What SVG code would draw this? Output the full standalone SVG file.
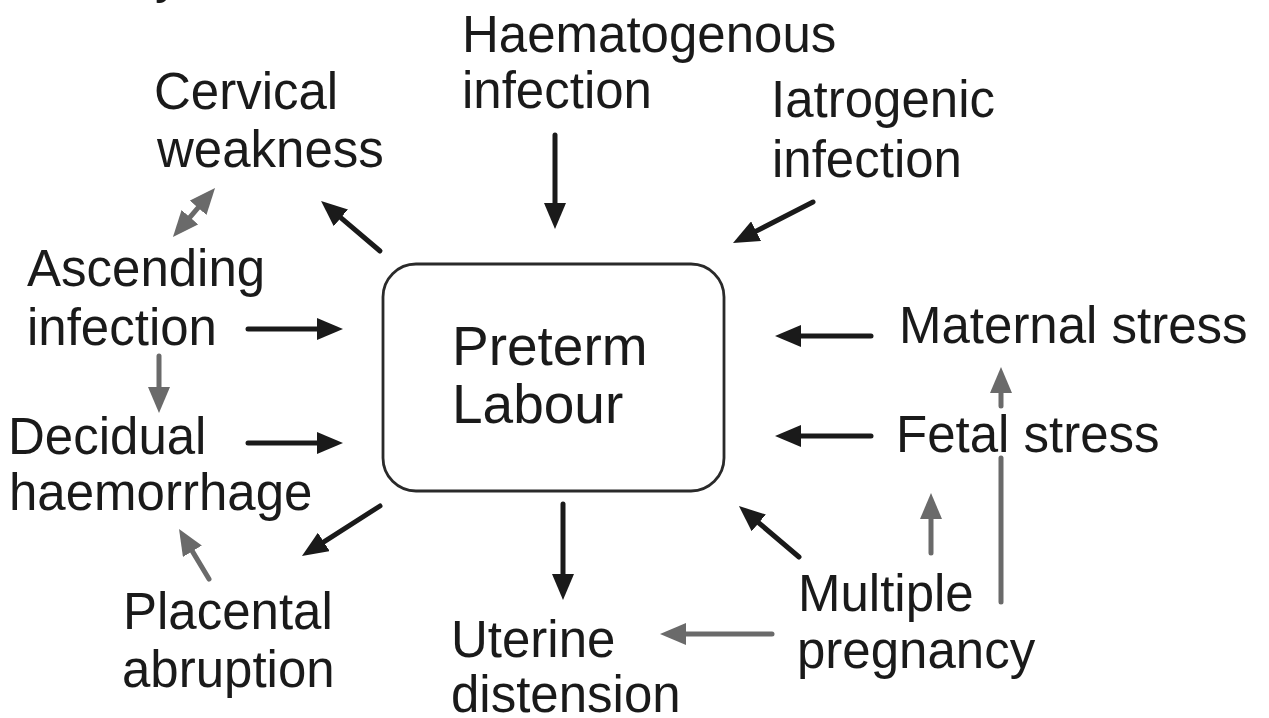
<svg xmlns="http://www.w3.org/2000/svg" width="1269" height="718" viewBox="0 0 1269 718">
<style>
text{font-family:"Liberation Sans",Arial,Helvetica,sans-serif;font-size:51px;fill:#1a1a1a}
.big{font-size:55px}
.k{stroke:#1a1a1a;stroke-width:5;fill:none;stroke-linecap:round}
.g{stroke:#6a6a6a;stroke-width:5;fill:none;stroke-linecap:round}
.box{fill:#fff;stroke:#2a2a2a;stroke-width:2.8}
</style>
<defs>
<marker id="hk" viewBox="0 0 26 22" refX="6" refY="11" markerWidth="26" markerHeight="22" markerUnits="userSpaceOnUse" orient="auto-start-reverse"><path d="M0,0 L26,11 L0,22 z" fill="#1a1a1a"/></marker>
<marker id="hg" viewBox="0 0 26 22" refX="6" refY="11" markerWidth="26" markerHeight="22" markerUnits="userSpaceOnUse" orient="auto-start-reverse"><path d="M0,0 L26,11 L0,22 z" fill="#6a6a6a"/></marker>
</defs>
<rect width="1269" height="718" fill="#fff"/>
<text x="155" y="-8">y</text>
<g id="preterm-labour">
<rect class="box" x="383" y="264" width="341" height="227" rx="33"/>
<text class="big" x="452" y="365">Preterm</text>
<text class="big" x="452" y="423">Labour</text>
</g>
<g id="haematogenous"><text x="462" y="52">Haematogenous</text><text x="462" y="108">infection</text></g>
<g id="iatrogenic"><text x="771" y="117">Iatrogenic</text><text x="772" y="177">infection</text></g>
<g id="cervical"><text x="154" y="109">Cervical</text><text x="157" y="167">weakness</text></g>
<g id="ascending"><text x="27" y="286">Ascending</text><text x="27" y="345">infection</text></g>
<g id="decidual"><text x="8" y="454">Decidual</text><text x="9" y="510">haemorrhage</text></g>
<g id="placental"><text x="123" y="629">Placental</text><text x="122" y="687">abruption</text></g>
<g id="uterine"><text x="451" y="657">Uterine</text><text x="451" y="712">distension</text></g>
<g id="multiple"><text x="798" y="611">Multiple</text><text x="797" y="668">pregnancy</text></g>
<g id="maternal"><text x="899" y="343">Maternal stress</text></g>
<g id="fetal"><text x="896" y="452">Fetal stress</text></g>
<g id="connectors">
<line class="k" x1="555" y1="135" x2="555" y2="209" marker-end="url(#hk)"/>
<line class="k" x1="813" y1="202" x2="750.8" y2="233.9" marker-end="url(#hk)"/>
<line class="k" x1="380" y1="251" x2="336.3" y2="213.9" marker-end="url(#hk)"/>
<line class="k" x1="248" y1="329" x2="323" y2="329" marker-end="url(#hk)"/>
<line class="k" x1="248" y1="443" x2="323" y2="443" marker-end="url(#hk)"/>
<line class="k" x1="380" y1="506" x2="318.8" y2="545.2" marker-end="url(#hk)"/>
<line class="k" x1="563" y1="504" x2="563" y2="580" marker-end="url(#hk)"/>
<line class="k" x1="799" y1="557" x2="754.2" y2="519" marker-end="url(#hk)"/>
<line class="k" x1="871" y1="336" x2="795" y2="336" marker-end="url(#hk)"/>
<line class="k" x1="871" y1="436" x2="795" y2="436" marker-end="url(#hk)"/>
<line class="g" x1="186" y1="221.8" x2="202" y2="203.2" marker-start="url(#hg)" marker-end="url(#hg)"/>
<line class="g" x1="159" y1="356" x2="159" y2="393" marker-end="url(#hg)"/>
<line class="g" x1="209" y1="579" x2="189.3" y2="546.1" marker-end="url(#hg)"/>
<line class="g" x1="772" y1="634" x2="680" y2="634" marker-end="url(#hg)"/>
<line class="g" x1="931" y1="553" x2="931" y2="513" marker-end="url(#hg)"/>
<line class="g" x1="1001" y1="602" x2="1001" y2="458"/>
<line class="g" x1="1001" y1="406" x2="1001" y2="387" marker-end="url(#hg)"/>
</g>
</svg>
